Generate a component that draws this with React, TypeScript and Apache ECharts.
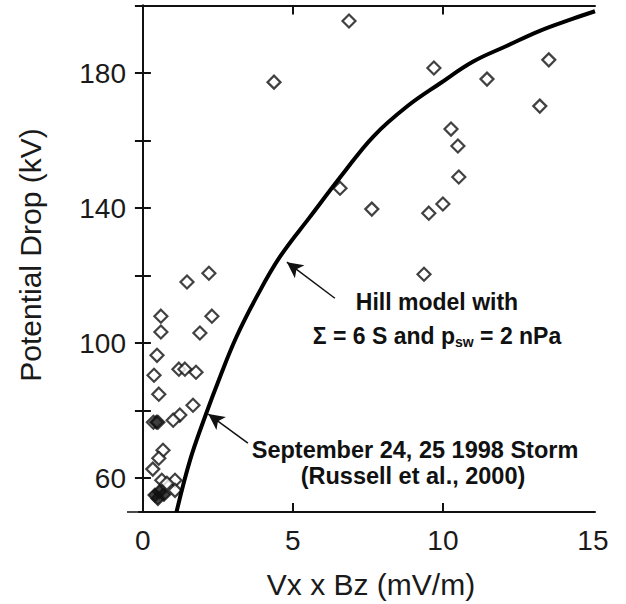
import React, { useEffect, useRef } from "react";
import * as echarts from "echarts";

// Axis ticks and labels
const xLabelValues = [0, 5, 10, 15];
const xTickValues = [5, 10];
const yLabelValues = [60, 100, 140, 180];
const yTickValues = [60, 80, 100, 120, 140, 160, 180, 200];

// Observed potential drop (open diamonds)
const obsX = [
  6.87, 4.37, 9.7, 11.47, 13.53, 13.23, 10.27, 10.5, 10.53, 6.57, 7.63, 10.0, 9.53, 9.37,
  2.2, 1.47, 0.6, 2.3, 0.6, 1.9, 0.47, 0.37, 1.2, 1.4, 1.77, 0.53, 1.67, 1.23, 1.01,
  0.35, 0.5, 0.67, 0.53, 0.33, 0.63, 1.07, 1.07, 0.8,
];
const obsY = [
  195.4, 177.3, 181.5, 178.2, 183.9, 170.2, 163.4, 158.4, 149.2, 145.9, 139.7, 141.2, 138.5, 120.4,
  120.7, 118.1, 108, 108, 103.3, 103, 96.4, 90.5, 92.3, 92.3, 91.4, 84.9, 81.6, 78.7, 77.2,
  76.6, 76.6, 68.3, 65.9, 62.7, 59.4, 59.4, 56.4, 58.5,
];

// Densely overlapping observations (appear filled)
const denseX = [0.4, 0.55, 0.7, 0.5, 0.45];
const denseY = [55.0, 56.0, 55.2, 54.0, 76.6];

// Hill model curve (Sigma = 6 S, psw = 2 nPa)
const hillX = [1.12, 1.57, 2.07, 2.57, 3.12, 3.79, 4.57, 5.57, 6.68, 7.68, 8.79, 9.9, 11.01, 12.12, 13.23, 14.34, 15.07];
const hillY = [50, 65.3, 78.2, 90.0, 101.9, 113.7, 125.6, 137.4, 150.3, 161.2, 170.0, 176.9, 183.4, 188.0, 192.5, 196.1, 198.3];

const FONT = "Liberation Sans, Arial, Helvetica, sans-serif";

export default function App() {
  const ref = useRef<HTMLDivElement>(null);

  useEffect(() => {
    if (!ref.current) return;
    const chart = echarts.init(ref.current, null, { renderer: "svg" });

    const axisLine = { show: true, lineStyle: { color: "#111", width: 2 } };
    const tickStyle = { color: "#111", width: 2 };

    const option: any = {
      animation: false,
      backgroundColor: "#fff",
      grid: { left: 139, right: 31, top: 5.5, bottom: 92, containLabel: false },
      xAxis: [
        {
          type: "value",
          position: "bottom",
          min: -0.13,
          max: 15.07,
          name: "Vx x Bz (mV/m)",
          nameLocation: "middle",
          nameGap: 57,
          nameTextStyle: { fontFamily: FONT, fontSize: 30, color: "#1a1a1a", padding: [0, 0, 0, 8] },
          axisLine,
          splitLine: { show: false },
          axisTick: { show: true, inside: true, length: 9, customValues: xTickValues, lineStyle: tickStyle },
          axisLabel: {
            customValues: xLabelValues,
            margin: 14,
            fontFamily: FONT,
            fontSize: 28,
            color: "#1a1a1a",
          },
        },
        {
          type: "value",
          position: "top",
          min: -0.13,
          max: 15.07,
          axisLine,
          splitLine: { show: false },
          axisTick: { show: true, inside: true, length: 9, customValues: xTickValues, lineStyle: tickStyle },
          axisLabel: { show: false },
        },
      ],
      yAxis: [
        {
          type: "value",
          position: "left",
          min: 50,
          max: 200,
          axisLine,
          splitLine: { show: false },
          axisTick: { show: true, inside: true, length: 8, customValues: yTickValues, lineStyle: tickStyle },
          axisLabel: {
            customValues: yLabelValues,
            margin: 13,
            fontFamily: FONT,
            fontSize: 28,
            color: "#1a1a1a",
          },
        },
        {
          type: "value",
          position: "right",
          min: 50,
          max: 200,
          axisLine,
          splitLine: { show: false },
          axisTick: { show: true, inside: true, length: 8, customValues: yTickValues, lineStyle: tickStyle },
          axisLabel: { show: false },
        },
      ],
      series: [
        {
          name: "Hill model",
          type: "line",
          xAxisIndex: 0,
          yAxisIndex: 0,
          data: hillX.map((x, i) => [x, hillY[i]]),
          smooth: 0.4,
          showSymbol: false,
          symbol: "none",
          clip: true,
          lineStyle: { color: "#000", width: 4 },
          silent: true,
          markLine: {
            silent: true,
            symbol: ["none", "arrow"],
            symbolSize: [12, 16],
            label: { show: false },
            lineStyle: { color: "#111", width: 1.5, type: "solid" },
            data: [
              [{ coord: [6.4, 113.3] }, { coord: [4.8, 124.0] }],
              [{ coord: [3.5, 70.4] }, { coord: [2.18, 79.0] }],
            ],
          },
        },
        {
          name: "Observed",
          type: "scatter",
          data: obsX.map((x, i) => [x, obsY[i]]),
          symbol: "diamond",
          symbolSize: 13,
          itemStyle: { color: "#fff", borderColor: "#111", borderWidth: 2.2 },
          silent: true,
        },
        {
          name: "Observed (overlapping)",
          type: "scatter",
          data: denseX.map((x, i) => [x, denseY[i]]),
          symbol: "diamond",
          symbolSize: 13,
          itemStyle: { color: "#111", borderColor: "#111", borderWidth: 2 },
          silent: true,
        },
      ],
      graphic: [
        {
          type: "line",
          shape: { x1: 127, y1: 512, x2: 139, y2: 512 },
          style: { stroke: "#111", lineWidth: 1.5 },
        },
        {
          type: "text",
          x: 30,
          y: 255,
          rotation: Math.PI / 2,
          style: {
            text: "Potential Drop (kV)",
            fontFamily: FONT,
            fontSize: 30,
            fill: "#1a1a1a",
            align: "center",
            verticalAlign: "middle",
          },
        },
        {
          type: "text",
          x: 437,
          y: 302,
          style: {
            text: "Hill model with",
            fontFamily: FONT,
            fontWeight: "bold",
            fontSize: 23,
            fill: "#111",
            align: "center",
            verticalAlign: "middle",
          },
        },
        {
          type: "text",
          x: 437,
          y: 336,
          style: {
            text: "{a|Σ = 6 S and p}{s|sw}{a| = 2 nPa}",
            align: "center",
            verticalAlign: "middle",
            rich: {
              a: { fontFamily: FONT, fontWeight: "bold", fontSize: 23, fill: "#111", color: "#111" },
              s: {
                fontFamily: FONT,
                fontWeight: "bold",
                fontSize: 14,
                fill: "#111",
                color: "#111",
                padding: [12, 0, 0, 0],
              },
            },
          },
        },
        {
          type: "text",
          x: 415,
          y: 450,
          style: {
            text: "September 24, 25 1998 Storm",
            fontFamily: FONT,
            fontWeight: "bold",
            fontSize: 23.5,
            fill: "#111",
            align: "center",
            verticalAlign: "middle",
          },
        },
        {
          type: "text",
          x: 413,
          y: 476,
          style: {
            text: "(Russell et al., 2000)",
            fontFamily: FONT,
            fontWeight: "bold",
            fontSize: 23.5,
            fill: "#111",
            align: "center",
            verticalAlign: "middle",
          },
        },
      ],
    };

    chart.setOption(option);
    return () => chart.dispose();
  }, []);

  return (
    <div
      ref={ref}
      style={{ position: "absolute", left: 0, top: 0, width: 626, height: 604 }}
    />
  );
}
